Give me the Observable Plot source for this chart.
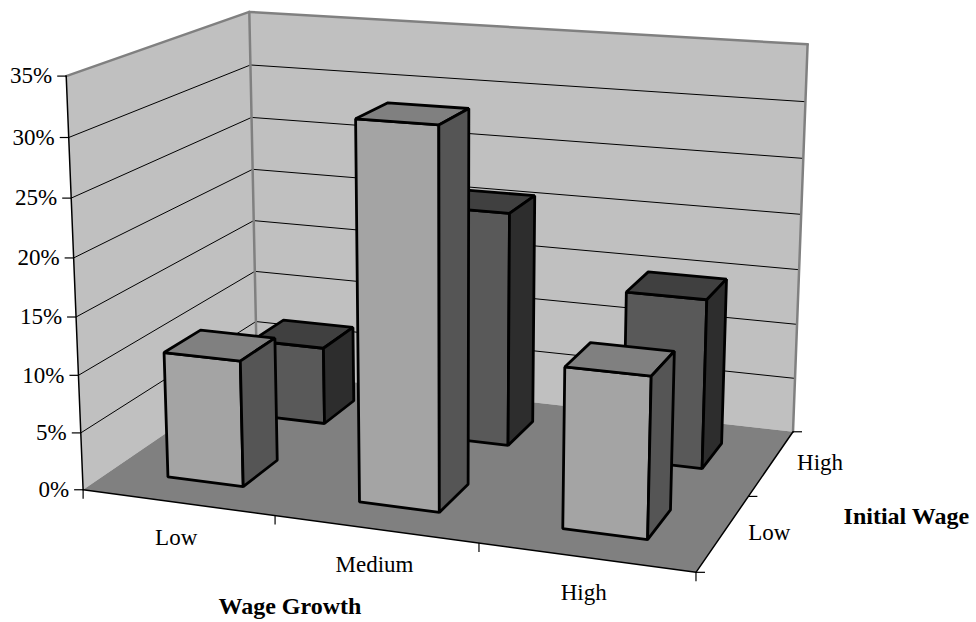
<!DOCTYPE html>
<html>
<head>
<meta charset="utf-8">
<script src="https://cdn.jsdelivr.net/npm/d3@7"></script>
<script src="https://cdn.jsdelivr.net/npm/@observablehq/plot@0.6"></script>
<style>body{margin:0;background:#fff}svg{display:block}</style>
</head>
<body>
<div id="chart"></div>
<script>
// Share of workers by wage growth and initial wage, as a 3D column chart
const wageGrowth = ["Low", "Medium", "High"];
const initialWage = ["Low", "High"];
const lowInitialWage = [11, 32.1, 13.5];
const highInitialWage = [7.1, 21, 15];
const percentTicks = [0, 5, 10, 15, 20, 25, 30, 35];

// Perspective camera: growth position u, wage position v, share w of the 35% axis
const cameraX = [183.9112, 107.3307, -19.7856, 82.6116];
const cameraY = [10.7677, -29.7686, -416.9754, 489.2578];
const cameraD = [-0.0293, 0.0796, -0.0439, 1];
const project = (u, v, w) => {
  const p = [u, v, w / 35, 1];
  const dot = (row) => d3.sum(row, (c, i) => c * p[i]);
  const d = dot(cameraD);
  return {x: dot(cameraX) / d, y: dot(cameraY) / d};
};

const poly = (pts, style) =>
  Plot.line(pts.map((p) => project(...p)), {x: "x", y: "y", curve: "linear-closed", ...style});
const seg = (a, b, style) =>
  Plot.line([project(...a), project(...b)], {x: "x", y: "y", ...style});

// One column: front, top and right faces, inset from its floor cell
const barInset = 0.3;
function bar(ui, vi, value, shades) {
  const u0 = ui + barInset, u1 = ui + 1 - barInset;
  const v0 = vi + barInset, v1 = vi + 1 - barInset;
  const edge = {stroke: "#000", strokeWidth: 2.8, strokeLinejoin: "miter"};
  return [
    poly([[u0, v0, 0], [u1, v0, 0], [u1, v0, value], [u0, v0, value]], {fill: shades[0], ...edge}),
    poly([[u0, v0, value], [u1, v0, value], [u1, v1, value], [u0, v1, value]], {fill: shades[1], ...edge}),
    poly([[u1, v0, 0], [u1, v1, 0], [u1, v1, value], [u1, v0, value]], {fill: shades[2], ...edge})
  ];
}

const frontShades = ["#a4a4a4", "#808080", "#555555"];
const backShades = ["#595959", "#404040", "#2d2d2d"];
const wallStyle = {fill: "#c0c0c0", stroke: "none"};
const grey = {stroke: "#808080", strokeWidth: 2.5};
const grid = {stroke: "#000", strokeWidth: 1};
const axis = {stroke: "#000", strokeWidth: 1.5};
const tick = {stroke: "#000", strokeWidth: 1.2};

const yTicks = percentTicks.map((w) => ({w, ...project(0, 0, w)}));
const xTicks = d3.range(4).map((u) => project(u, 0, 0));
const sideTicks = d3.range(3).map((v) => project(3, v, 0));
const textStyle = {fontFamily: "Liberation Serif", fill: "#000", stroke: "none"};
const labelSize = 23, titleSize = 24;
const growthNudge = [-1.5, -1, -2], wageNudge = [-4, -1.5];

const chart = Plot.plot({
  width: 976,
  height: 622,
  margin: 0,
  x: {type: "identity", axis: null},
  y: {type: "identity", axis: null},
  marks: [
    // walls and floor
    poly([[0, 2, 0], [3, 2, 0], [3, 2, 35], [0, 2, 35]], wallStyle),
    poly([[0, 0, 0], [0, 2, 0], [0, 2, 35], [0, 0, 35]], wallStyle),
    poly([[0, 0, 0], [3, 0, 0], [3, 2, 0], [0, 2, 0]], {fill: "#808080", stroke: "none"}),
    // gridlines on both walls
    ...percentTicks.filter((w) => w > 0 && w < 35).flatMap((w) => [
      seg([0, 0, w], [0, 2, w], grid),
      seg([0, 2, w], [3, 2, w], grid)
    ]),
    seg([0, 0, 35], [0, 2, 35], grey),
    seg([0, 2, 35], [3, 2, 35], grey),
    seg([0, 2, 35], [0, 2, 0], grey),
    seg([3, 2, 35], [3, 2, 0], grey),
    seg([0, 0, 0], [0, 0, 35], axis),
    seg([0, 0, 0], [3, 0, 0], axis),
    seg([3, 0, 0], [3, 2, 0], axis),
    // tick marks
    Plot.link(yTicks, {x1: "x", y1: "y", x2: (d) => d.x - 9, y2: "y", ...tick}),
    Plot.link(xTicks, {x1: "x", y1: "y", x2: "x", y2: (d) => d.y + 9, ...tick}),
    Plot.link(sideTicks, {x1: "x", y1: "y", x2: (d) => d.x + 9, y2: "y", ...tick}),
    // columns, far row first
    ...highInitialWage.flatMap((value, i) => bar(i, 1, value, backShades)),
    ...lowInitialWage.flatMap((value, i) => bar(i, 0, value, frontShades)),
    // axis labels and titles
    Plot.text(yTicks, {x: "x", y: "y", text: (d) => d.w + "%", dx: -14, textAnchor: "end", fontSize: labelSize, ...textStyle}),
    Plot.text(wageGrowth.map((name, i) => ({name, ...project(i + 0.5, 0, 0), nudge: growthNudge[i]})), {
      x: (d) => d.x + d.nudge, y: "y", text: "name", dy: 35, fontSize: labelSize, ...textStyle
    }),
    Plot.text(initialWage.map((name, i) => ({name, ...project(3, i + 0.5, 0), nudge: wageNudge[i]})), {
      x: (d) => d.x + d.nudge, y: "y", text: "name", dx: 50, fontSize: labelSize, ...textStyle
    }),
    Plot.text(["Wage Growth"], {x: () => project(1.5, 0, 0).x, y: () => project(1.5, 0, 0).y, dx: -85.5, dy: 77, fontSize: titleSize, fontWeight: "bold", ...textStyle}),
    Plot.text(["Initial Wage"], {x: () => project(3, 1, 0).x, y: () => project(3, 1, 0).y, dx: 158, dy: 20, fontSize: titleSize, fontWeight: "bold", ...textStyle})
  ]
});
document.getElementById("chart").append(chart);
</script>
</body>
</html>
